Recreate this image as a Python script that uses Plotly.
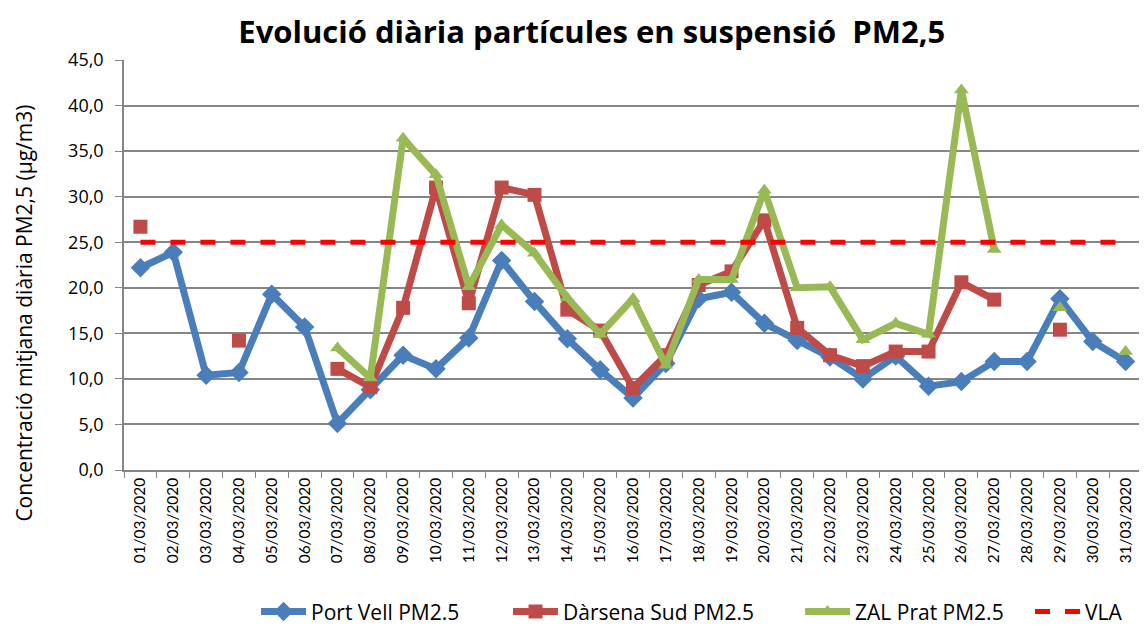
import plotly.graph_objects as go

dates = [f"{d:02d}/03/2020" for d in range(1, 32)]

port_vell = [22.2, 23.9, 10.4, 10.7, 19.3, 15.7, 5.1, 8.8, 12.6, 11.1,
             14.5, 23.0, 18.5, 14.4, 11.0, 7.9, 11.7, 18.8, 19.5, 16.1,
             14.2, 12.4, 10.0, 12.5, 9.2, 9.7, 11.9, 11.9, 18.8, 14.1, 11.9]

darsena_sud = [26.7, None, None, 14.2, None, None, 11.1, 9.1, 17.8, 31.0,
               18.3, 31.0, 30.2, 17.6, 15.3, 9.0, 12.6, 20.3, 21.8, 27.4,
               15.6, 12.6, 11.4, 13.0, 13.0, 20.6, 18.7, None, 15.4, None, None]

zal_prat = [None, None, None, None, None, None, 13.4, 10.1, 36.4, 32.4,
            20.1, 26.9, 23.8, 18.9, 14.9, 18.8, 11.5, 20.9, 20.9, 30.7,
            20.0, 20.1, 14.3, 16.1, 14.9, 41.7, 24.2, None, 17.8, None, 13.0]

vla = [25.0] * 31

ytick_vals = [0, 5, 10, 15, 20, 25, 30, 35, 40, 45]
ytick_text = ["0,0", "5,0", "10,0", "15,0", "20,0", "25,0", "30,0", "35,0", "40,0", "45,0"]

FONT = "'Open Sans', sans-serif"

fig = go.Figure()
fig.add_trace(go.Scatter(x=dates, y=port_vell, name="Port Vell PM2.5", mode="lines+markers",
                         line=dict(color="#4A7EBB", width=7),
                         marker=dict(symbol="diamond", size=15, color="#4A7EBB"),
                         connectgaps=False, legend="legend"))
fig.add_trace(go.Scatter(x=dates, y=darsena_sud, name="Dàrsena Sud PM2.5", mode="lines+markers",
                         line=dict(color="#BE4B48", width=7),
                         marker=dict(symbol="square", size=14, color="#BE4B48"),
                         connectgaps=False, legend="legend2"))
fig.add_trace(go.Scatter(x=dates, y=zal_prat, name="ZAL Prat PM2.5", mode="lines+markers",
                         line=dict(color="#98B954", width=7),
                         marker=dict(symbol="triangle-up", size=13, color="#98B954"),
                         connectgaps=False, legend="legend3"))
fig.add_trace(go.Scatter(x=dates, y=vla, name="VLA", mode="lines",
                         line=dict(color="#FF0000", width=5, dash="dash"),
                         legend="legend4"))

def leg(x):
    return dict(orientation="h", x=x, xanchor="left", y=-0.346, yanchor="middle",
                font=dict(size=21, family=FONT, color="black"), bgcolor="rgba(0,0,0,0)",
                itemwidth=45)

fig.update_layout(
    width=1147, height=628,
    paper_bgcolor="white", plot_bgcolor="white",
    margin=dict(l=116, r=13, t=52, b=166, autoexpand=False),
    font=dict(family=FONT, color="black"),
    title=dict(text="<b>Evolució diària partícules en suspensió  PM2,5</b>",
               x=0.509, xanchor="center", y=0.962, yanchor="middle",
               font=dict(size=31, family=FONT, color="black")),
    showlegend=True,
    legend=leg(0.1297),
    legend2=leg(0.3772),
    legend3=leg(0.6641),
    legend4=leg(0.8900),
    annotations=[dict(text="Concentració mitjana diària PM2,5 (µg/m3)", textangle=-90,
                      xref="paper", yref="paper", x=-0.098, y=0.382,
                      xanchor="center", yanchor="middle", showarrow=False,
                      font=dict(size=21, family=FONT, color="black"))],
)
fig.update_xaxes(
    type="category", tickangle=-90, tickfont=dict(size=15.4, family="Lato, sans-serif"),
    showgrid=False, showline=True, linecolor="#868686", linewidth=1.5,
    ticks="outside", ticklen=6, tickcolor="#868686", tickson="boundaries",
    range=[-0.5, 30.5], automargin=False,
)
fig.update_yaxes(
    range=[0, 45], tickvals=ytick_vals, ticktext=ytick_text,
    tickfont=dict(size=18, family=FONT),
    showgrid=True, gridcolor="#868686", gridwidth=1.5,
    showline=True, linecolor="#868686", linewidth=1.5,
    ticks="outside", ticklen=7, tickcolor="#868686", zeroline=False,
    ticklabelstandoff=8, automargin=False,
)

fig.write_html("out.html")
